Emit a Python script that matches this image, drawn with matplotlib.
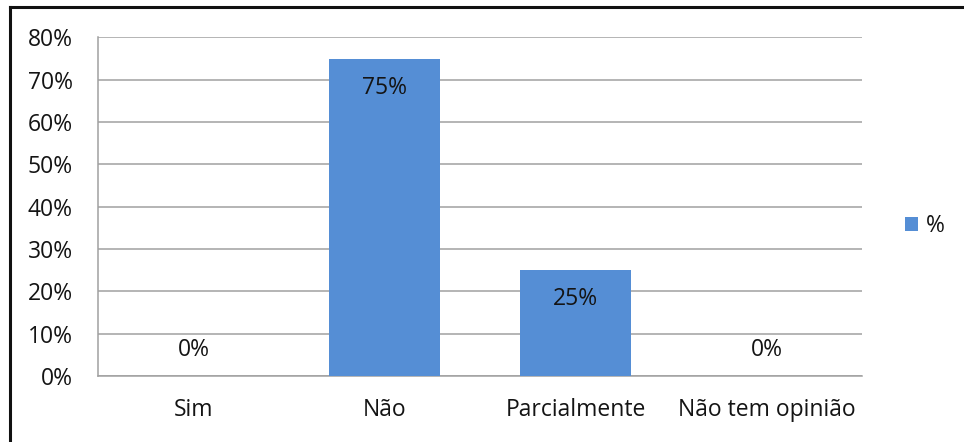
import matplotlib.pyplot as plt
from matplotlib.lines import Line2D

categorias = ['Sim', 'Não', 'Parcialmente', 'Não tem opinião']
valores = [0, 75, 25, 0]
serie = '%'

plt.rcParams['font.family'] = ['Open Sans', 'DejaVu Sans']
cor_texto = '#141414'
tam = 16.5

fig = plt.figure(figsize=(9.64, 4.42), dpi=100)
ax = fig.add_axes([98 / 964, 1 - 376 / 442, (862 - 98) / 964, (376 - 37.5) / 442])

x = range(len(categorias))
barras = ax.bar(x, valores, width=0.576, color='#558ed5', label=serie, zorder=3)

ax.set_xlim(-0.5, len(categorias) - 0.5)
ax.set_ylim(0, 80)
ax.set_yticks(range(0, 81, 10))
ax.set_yticklabels([f'{v}%' for v in range(0, 81, 10)])
ax.set_xticks(list(x))
ax.set_xticklabels(categorias)
ax.tick_params(axis='both', length=0, labelsize=tam, colors=cor_texto)
ax.tick_params(axis='y', pad=18)
ax.tick_params(axis='x', pad=16)

ax.grid(axis='y', color='#a0a0a0', linewidth=1.1, zorder=0)
for lado in ['top', 'right']:
    ax.spines[lado].set_visible(False)
for lado in ['left', 'bottom']:
    ax.spines[lado].set_color('#a0a0a0')
    ax.spines[lado].set_linewidth(1.1)

# rótulos de dados: dentro da barra, ou acima do eixo quando o valor é zero
for b, v in zip(barras, valores):
    dy = -21 if v > 0 else 19
    ax.annotate(f'{v}%', (b.get_x() + b.get_width() / 2, v), xytext=(0, dy),
                textcoords='offset points', ha='center', va='center',
                fontsize=tam, color=cor_texto, zorder=4)

leg = fig.legend(handles=[barras], labels=[serie], loc='center left',
                 bbox_to_anchor=(905 / 964, 1 - 226 / 442), frameon=False,
                 borderpad=0, borderaxespad=0,
                 fontsize=tam, handlelength=0.57, handleheight=0.57,
                 handletextpad=0.35, labelcolor=cor_texto)

# moldura do gráfico
fig.add_artist(Line2D([9.5 / 964, 9.5 / 964], [-0.1, 1 - 6.5 / 442],
                      transform=fig.transFigure, color='#111111', linewidth=2.2))
fig.add_artist(Line2D([9.5 / 964, 1.1], [1 - 6.5 / 442, 1 - 6.5 / 442],
                      transform=fig.transFigure, color='#111111', linewidth=2.2))

fig.savefig('out.png', dpi=100)
